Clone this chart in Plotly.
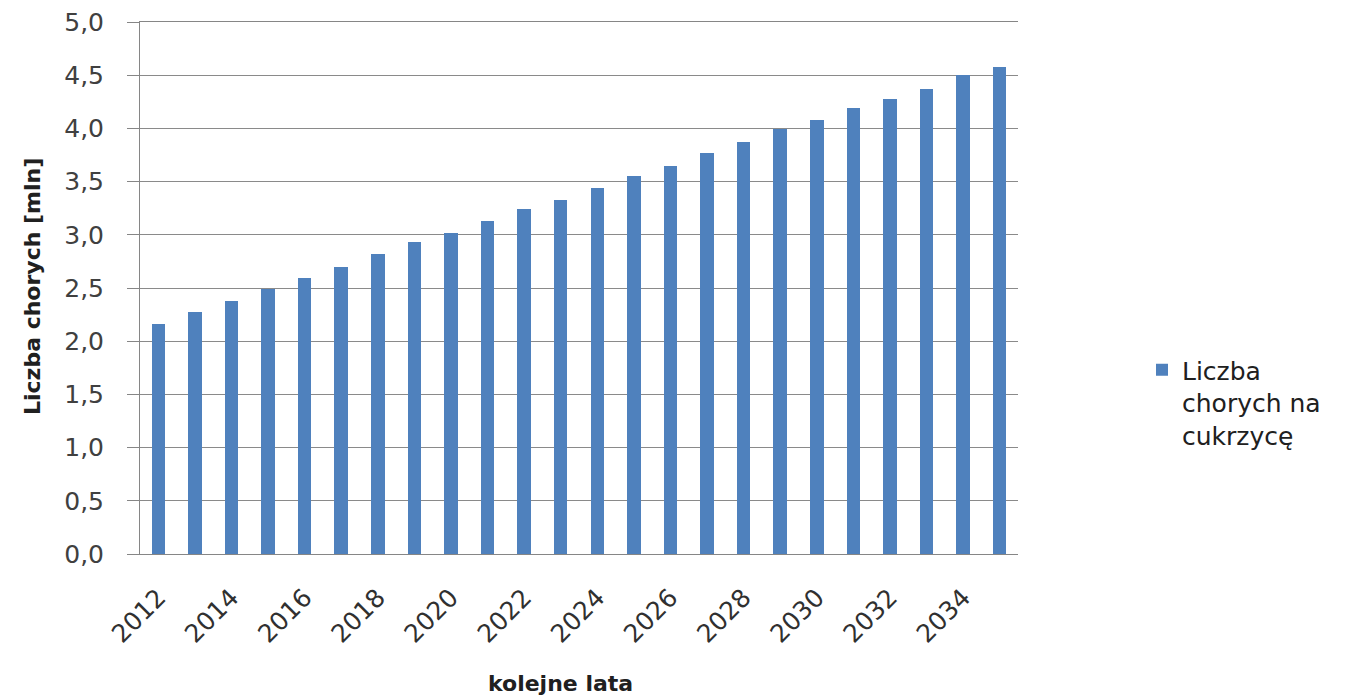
import plotly.graph_objects as go

years = list(range(2012, 2036))
values = [2.16, 2.27, 2.38, 2.49, 2.59, 2.70, 2.82, 2.93, 3.02, 3.13, 3.24, 3.33,
          3.44, 3.55, 3.65, 3.77, 3.87, 3.99, 4.08, 4.19, 4.28, 4.37, 4.50, 4.58]
series_name = "Liczba<br>chorych na<br>cukrzycę"
y_title = "Liczba chorych [mln]"
x_title = "kolejne lata"

font_family = "DejaVu Sans, Verdana, sans-serif"

fig = go.Figure()
fig.add_trace(go.Bar(
    x=years, y=values, name=series_name,
    marker=dict(color="#4F81BD", line=dict(width=0)),
    width=0.37, showlegend=True,
))

plot_l, plot_r, plot_t, plot_b = 140, 1018, 22, 554
def px_to_paper(px, py):
    return ((px - plot_l) / (plot_r - plot_l), (plot_b - py) / (plot_b - plot_t))

ax, ay = px_to_paper(32, 287)
bx, by = px_to_paper(560, 683)
lx, ly = px_to_paper(1142, 347)

fig.update_layout(
    width=1351, height=695,
    margin=dict(l=plot_l, r=1351 - plot_r, t=plot_t, b=695 - plot_b),
    paper_bgcolor="white", plot_bgcolor="white",
    separators=", ",
    font=dict(family=font_family, size=25, color="#404040"),
    bargap=0,
    showlegend=True,
    legend=dict(x=lx, y=ly, xanchor="left", yanchor="top",
                valign="top", font=dict(size=25, color="#202020"),
                itemwidth=30, bgcolor="rgba(0,0,0,0)"),
    xaxis=dict(
        range=[2011.5, 2035.5], tickmode="linear", tick0=2012, dtick=2,
        tickangle=-45, showgrid=False, showline=True, mirror=True,
        linecolor="#868686", linewidth=1, ticks="",
        tickfont=dict(size=25, color="#303030"),
        zeroline=False, ticklabelstandoff=18, automargin=False,
    ),
    yaxis=dict(
        range=[0, 5], tickmode="linear", tick0=0, dtick=0.5, tickformat=".1f",
        showgrid=True, gridcolor="#8A8A8A", gridwidth=1,
        showline=True, linecolor="#868686", linewidth=1,
        ticks="outside", ticklen=12, tickcolor="#868686",
        tickfont=dict(size=25, color="#404040"), zeroline=False,
        ticklabelstandoff=18, automargin=False,
    ),
    annotations=[
        dict(text="<b>" + y_title + "</b>", x=ax, y=ay, xref="paper", yref="paper",
             xanchor="center", yanchor="middle", showarrow=False, textangle=-90,
             font=dict(size=22, color="#202020", family=font_family)),
        dict(text="<b>" + x_title + "</b>", x=bx, y=by, xref="paper", yref="paper",
             xanchor="center", yanchor="middle", showarrow=False,
             font=dict(size=22, color="#202020", family=font_family)),
    ],
)

fig.write_html("out.html")
